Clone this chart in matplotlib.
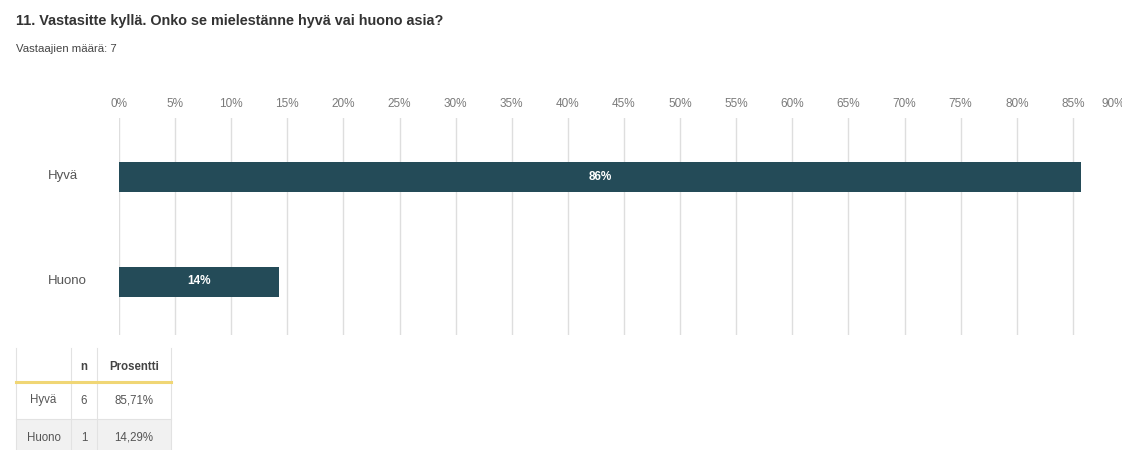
import matplotlib.pyplot as plt
from matplotlib.patches import Rectangle
from matplotlib.lines import Line2D

plt.rcParams['font.family'] = ['Liberation Sans', 'DejaVu Sans']

# Survey question 11 results
categories = ["Hyvä", "Huono"]
counts = [6, 1]
percents = [85.71, 14.29]
pct_labels = ["85,71%", "14,29%"]
xticks = list(range(0, 95, 5))

title = "11. Vastasitte kyllä. Onko se mielestänne hyvä vai huono asia?"
subtitle = "Vastaajien määrä: 7"

W, H = 1122, 450
fig = plt.figure(figsize=(W / 100, H / 100), dpi=100)


def fx(px):
    return px / W


def fy(py):
    return 1 - py / H


BAR_COLOR = "#244b58"
GRID_COLOR = "#dedede"

fig.text(fx(16), fy(21), title, fontsize=10.4, fontweight="bold", color="#333333",
         va="center", ha="left")
fig.text(fx(16), fy(49), subtitle, fontsize=8.2, color="#444444", va="center", ha="left")

# bar chart area: 0..90 % spans x=119..1129 px
left, right = 119, 1129
top, bottom = 118, 335
ax = fig.add_axes([fx(left), fy(bottom), fx(right - left), (bottom - top) / H])
ax.set_xlim(0, 90)
unit = 105.0
ax.set_ylim(1 + (bottom - 281.5) / unit, -58.5 / unit)

ypos = list(range(len(categories)))
ax.barh(ypos, percents, height=30 / unit, color=BAR_COLOR, zorder=3)
for y, p in zip(ypos, percents):
    ax.text(p / 2, y, f"{round(p)}%", color="white", fontsize=8.5, fontweight="bold",
            ha="center", va="center", zorder=4)

# tick labels on top; the last one is pulled in a little so it stays mostly visible
ax.set_xticks(xticks)
ax.set_xticklabels([f"{t}%" for t in xticks[:-1]] + [""], fontsize=8.5, color="#7a7a7a")
ax.xaxis.tick_top()
ax.tick_params(axis="x", length=0, pad=6)
ax.set_yticks([])
ax.grid(axis="x", color=GRID_COLOR, linewidth=1, zorder=0)
for s in ax.spines.values():
    s.set_visible(False)
fig.text(fx(1102), fy(104), f"{xticks[-1]}%", fontsize=8.5, color="#7a7a7a",
         ha="left", va="center")

# category labels, left-aligned
for c, yc in zip(categories, [176.5, 281.5]):
    fig.text(fx(48), fy(yc), c, fontsize=9.5, color="#555555", ha="left", va="center")

# summary table
cols = [16, 71, 97, 171]
rows = [348, 382, 419, 457]
row_bg = ["white", "white", "#f1f1f1"]
for i in range(3):
    fig.patches.append(Rectangle((fx(cols[0]), fy(rows[i + 1])), fx(cols[-1] - cols[0]),
                                 (rows[i + 1] - rows[i]) / H, transform=fig.transFigure,
                                 facecolor=row_bg[i], edgecolor="none", zorder=0))
for x in cols:
    fig.add_artist(Line2D([fx(x), fx(x)], [fy(rows[0]), fy(rows[-1])], color="#e2e2e2",
                          linewidth=0.8))
fig.add_artist(Line2D([fx(cols[0]), fx(cols[-1])], [fy(rows[2]), fy(rows[2])],
                      color="#e2e2e2", linewidth=0.8))
fig.add_artist(Line2D([fx(cols[0]), fx(cols[-1])], [fy(rows[1]), fy(rows[1])],
                      color="#f0d675", linewidth=2.2))

centers = [(cols[i] + cols[i + 1]) / 2 for i in range(3)]
fig.text(fx(centers[1]), fy(367), "n", fontsize=8.3, fontweight="bold", color="#444444",
         ha="center", va="center")
fig.text(fx(centers[2]), fy(367), "Prosentti", fontsize=8.3, fontweight="bold",
         color="#444444", ha="center", va="center")
for r, (c, n, pl) in enumerate(zip(categories, counts, pct_labels)):
    yc = (rows[r + 1] + rows[r + 2]) / 2
    for xc, s in zip(centers, [c, str(n), pl]):
        fig.text(fx(xc), fy(yc), s, fontsize=8.3, color="#555555", ha="center", va="center")

fig.savefig("out.png", dpi=100, facecolor="white")
